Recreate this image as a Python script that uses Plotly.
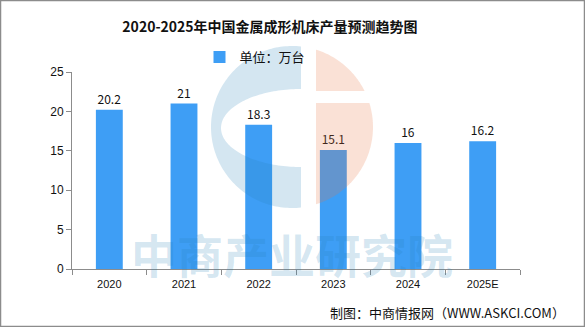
import numpy as np
import plotly.graph_objects as go

categories = ["2020", "2021", "2022", "2023", "2024", "2025E"]
values = [20.2, 21, 18.3, 15.1, 16, 16.2]
labels = ["20.2", "21", "18.3", "15.1", "16", "16.2"]
series_name = "单位：万台"
title_text = "2020-2025年中国金属成形机床产量预测趋势图"
source_text = "制图：中商情报网（WWW.ASKCI.COM）"
watermark_text = "中商产业研究院"

W, H = 585, 327
L, R, T, B = 72, 65, 72, 58
PW, PH = W - L - R, H - T - B


def px(x, y):
    return (x - L) / PW, (H - B - y) / PH


def path_from(points):
    pts = [px(x, y) for x, y in points]
    return "M " + " L ".join(f"{a:.5f},{b:.5f}" for a, b in pts) + " Z"


cx, cy, r = 292, 127, 81
# Blue "C"
xb = 301
t0 = np.arccos((xb - cx) / r)
ts = np.linspace(t0, 2 * np.pi - t0, 120)
outer = [(cx + r * np.cos(t), cy - r * np.sin(t)) for t in ts]
ecx, ecy, ea, eb = 301, 128, 80, 39
ss = np.linspace(1.5 * np.pi, 0.5 * np.pi, 100)
inner = [(ecx + ea * np.cos(s), ecy - eb * np.sin(s)) for s in ss]
blue_path = path_from(outer + inner)

# Peach pieces
xp0 = 316
ta = np.arccos((xp0 - cx) / r)
tb = np.arcsin((cy - 91) / r)
tc = np.arcsin((cy - 103) / r)
up = [(cx + r * np.cos(t), cy - r * np.sin(t)) for t in np.linspace(ta, tb, 60)] + [(xp0, 91)]
lo = [(xp0, 103)] + [(cx + r * np.cos(t), cy - r * np.sin(t)) for t in np.linspace(tc, -ta, 80)]
peach1 = path_from(up)
peach2 = path_from(lo)

fig = go.Figure()
fig.add_trace(go.Bar(
    x=categories, y=values, name=series_name,
    marker=dict(color="#3e9ef5", line=dict(width=0)),
    text=labels, textposition="outside", cliponaxis=False,
    textfont=dict(family="Noto Sans CJK SC", size=12, color="#111111"),
    showlegend=True,
))

blue_c = "rgba(40,130,185,0.2)"
peach_c = "rgba(230,120,70,0.22)"
shapes = [
    dict(type="path", xref="paper", yref="paper", path=blue_path, fillcolor=blue_c, line=dict(width=0), layer="above"),
    dict(type="path", xref="paper", yref="paper", path=peach1, fillcolor=peach_c, line=dict(width=0), layer="above"),
    dict(type="path", xref="paper", yref="paper", path=peach2, fillcolor=peach_c, line=dict(width=0), layer="above"),
]
bx0, by0 = px(0.5, 326.5)
bx1, by1 = px(584.5, 0.5)
shapes.append(dict(type="rect", xref="paper", yref="paper", x0=bx0, y0=by0, x1=bx1, y1=by1,
                   line=dict(color="#8c8c8c", width=1.5), fillcolor="rgba(0,0,0,0)", layer="above"))

wx, wy = px(292, 253)
sx, sy = px(567, 312)
annotations = [
    dict(text=watermark_text, xref="paper", yref="paper", x=wx, y=wy, showarrow=False,
         xanchor="center", yanchor="middle",
         font=dict(family="Noto Sans CJK SC", size=46, color="rgba(40,130,185,0.2)", weight="bold")),
    dict(text=source_text, xref="paper", yref="paper", x=sx, y=sy, showarrow=False,
         xanchor="right", yanchor="middle",
         font=dict(family="Noto Sans CJK SC", size=13, color="#111111")),
]

lx, ly = px(255, 57)
fig.update_layout(
    width=W, height=H,
    margin=dict(l=L, r=R, t=T, b=B),
    paper_bgcolor="white", plot_bgcolor="white",
    title=dict(text=title_text, x=270 / W, y=1 - 27 / H, xanchor="center", yanchor="middle",
               font=dict(family="Noto Sans CJK SC", size=14, color="#111111", weight="bold")),
    legend=dict(orientation="h", x=lx, y=ly, xanchor="center", yanchor="middle",
                font=dict(family="Noto Sans CJK SC", size=13, color="#111111"),
                bgcolor="rgba(0,0,0,0)", itemwidth=30),
    bargap=0.64,
    xaxis=dict(showline=True, linecolor="#8c8c8c", linewidth=1, ticks="outside", ticklen=5,
               tickcolor="#8c8c8c", tickson="boundaries", showgrid=False, ticklabelstandoff=5,
               tickfont=dict(family="Liberation Sans", size=11, color="#111111")),
    yaxis=dict(range=[0, 25], dtick=5, showline=True, linecolor="#8c8c8c", linewidth=1,
               ticks="outside", ticklen=5, tickcolor="#8c8c8c", showgrid=False, zeroline=False,
               tickfont=dict(family="Liberation Sans", size=12, color="#111111")),
    shapes=shapes, annotations=annotations,
)

fig.write_html("out.html")
